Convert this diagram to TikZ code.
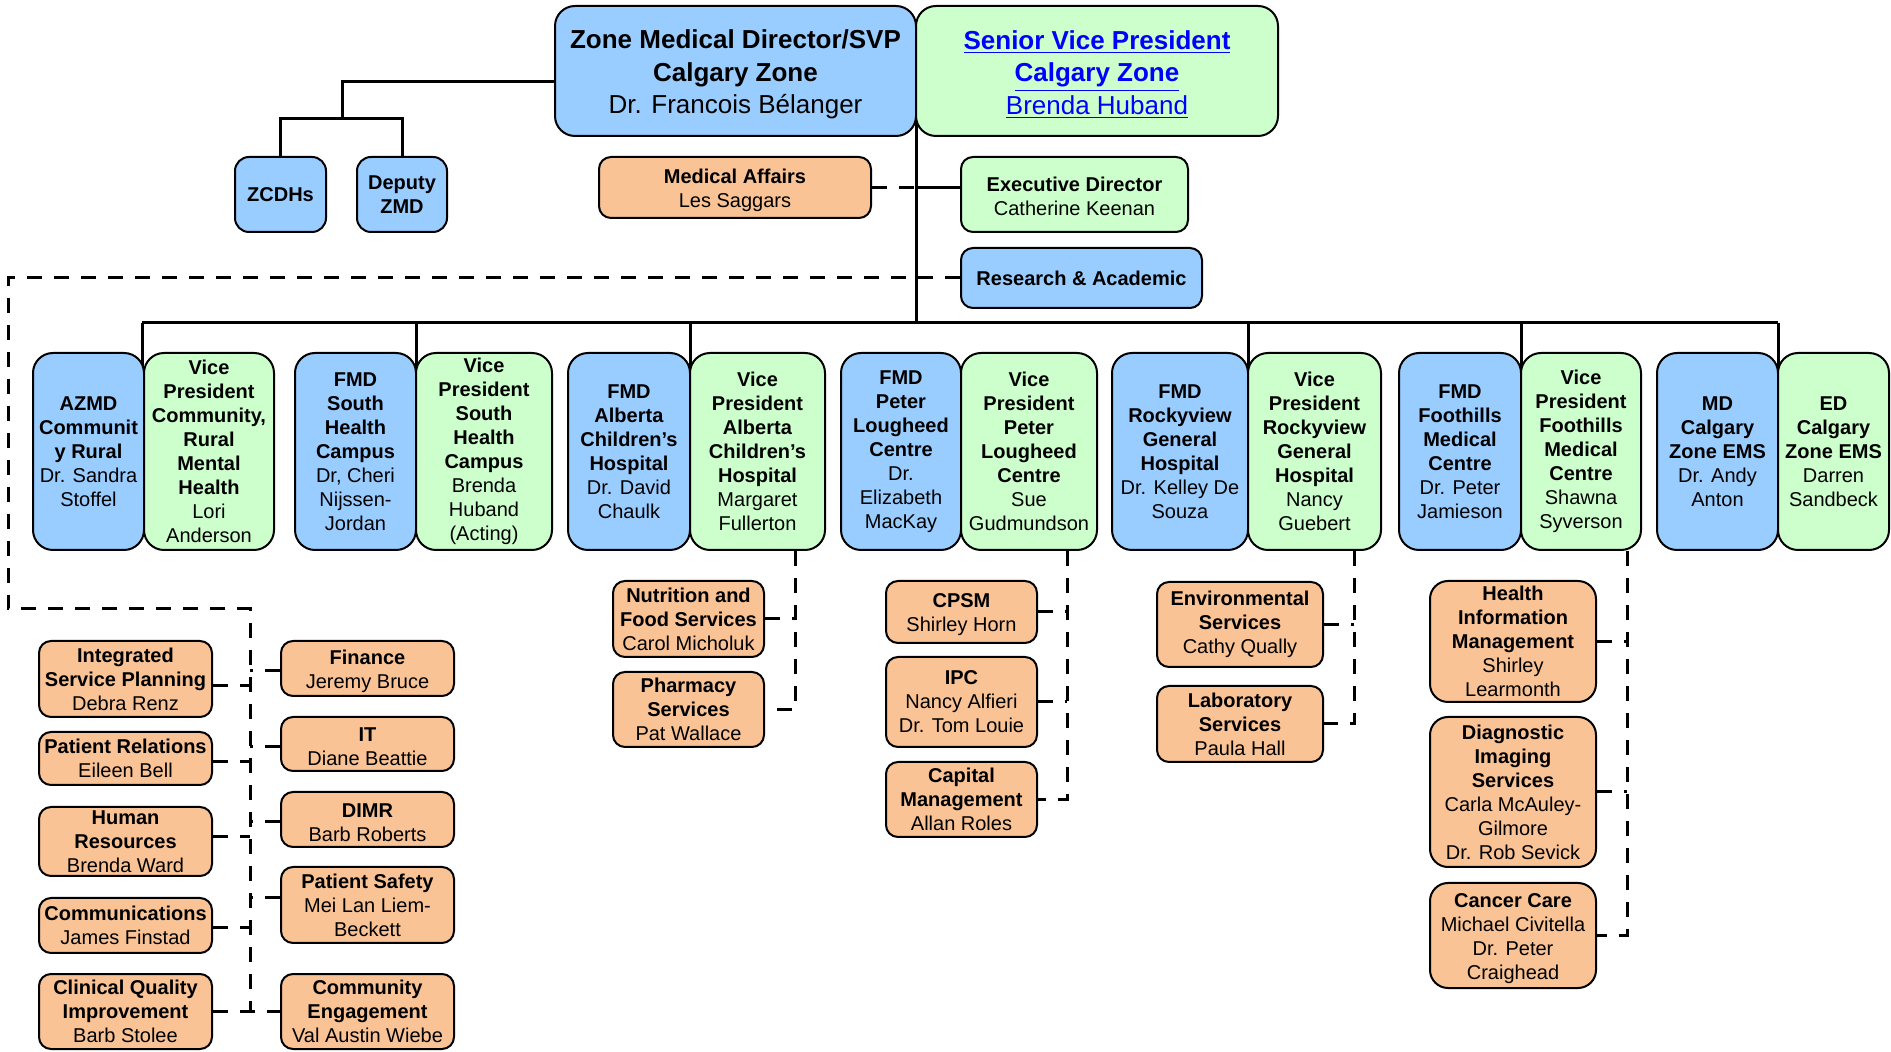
\documentclass[tikz,border=0pt]{standalone}
\usepackage{fontspec}
\setmainfont{Liberation Sans}
\usetikzlibrary{calc,backgrounds}
\definecolor{boxblue}{HTML}{99CCFF}
\definecolor{boxgreen}{HTML}{CCFFCC}
\definecolor{boxorange}{HTML}{F9C396}
\definecolor{linkblue}{HTML}{0000FF}
\newcommand{\B}[1]{\textbf{#1}}
\newcommand{\LK}[1]{\textcolor{linkblue}{\underline{#1}}}
\newcommand{\TopStrut}{\rule{0pt}{13pt}}
\newcommand{\MidStrut}{\rule{0pt}{9.6pt}}
\newcommand{\OrgBox}[7]{\node[#1, minimum width={((#5)-(#3))*0.5pt}, minimum height={((#6)-(#4))*0.5pt}] (#2) at ({((#3)+(#5))/2},{((#4)+(#6))/2}) {#7};}
\begin{document}
\begin{tikzpicture}[x=0.5pt,y=-0.5pt,
  orgbox/.style={draw=black, line width=1pt, rounded corners=10pt, align=center, inner sep=0pt, font=\fontsize{10}{12}\selectfont},
  bluebox/.style={orgbox, fill=boxblue},
  greenbox/.style={orgbox, fill=boxgreen},
  orangebox/.style={orgbox, fill=boxorange, rounded corners=6pt},
  bigorange/.style={orgbox, fill=boxorange, rounded corners=9pt},
  topfont/.style={font=\fontsize{13}{16.3}\selectfont},
  conn/.style={line width=1.5pt},
  dl/.style={line width=1.5pt, dash pattern=on 7.5pt off 6pt}]
\useasboundingbox (0,0) rectangle (1891,1052);

% ---------- top ----------
\OrgBox{bluebox,topfont}{ZMD}{555}{6}{916}{136}{\TopStrut\B{Zone Medical Director/SVP}\\\B{Calgary Zone}\\Dr. Francois Bélanger}
\OrgBox{greenbox,topfont}{SVP}{916}{6}{1278}{136}{\TopStrut\LK{\B{Senior Vice President}}\\\LK{\B{Calgary Zone}}\\\LK{Brenda Huband}}
\OrgBox{bluebox,rounded corners=7pt}{ZCDH}{235}{157}{326}{232}{\B{ZCDHs}}
\OrgBox{bluebox,rounded corners=7pt}{Dep}{357}{157}{447}{232}{\B{Deputy}\\\B{ZMD}}
\OrgBox{orangebox}{MedAff}{599}{157}{871}{218}{\MidStrut\B{Medical Affairs}\\Les Saggars}
\OrgBox{greenbox,rounded corners=6pt}{ExecDir}{961}{157}{1188}{232}{\MidStrut\B{Executive Director}\\Catherine Keenan}
\OrgBox{bluebox,rounded corners=6pt}{Research}{961}{248}{1202}{308}{\B{Research \& Academic}}

% ---------- row ----------
\OrgBox{bluebox}{AZMD}{33}{353}{144}{550}{\B{AZMD}\\\B{Communit}\\\B{y Rural}\\Dr. Sandra\\Stoffel}
\OrgBox{greenbox}{VPC}{144}{353}{274}{550}{\B{Vice}\\\B{President}\\\B{Community,}\\\B{Rural}\\\B{Mental}\\\B{Health}\\Lori\\Anderson}
\OrgBox{bluebox}{FMDS}{295}{353}{416}{550}{\B{FMD}\\\B{South}\\\B{Health}\\\B{Campus}\\Dr, Cheri\\Nijssen-\\Jordan}
\OrgBox{greenbox}{VPS}{416}{353}{552}{550}{\B{Vice}\\\B{President}\\\B{South}\\\B{Health}\\\B{Campus}\\Brenda\\Huband\\(Acting)}
\OrgBox{bluebox}{FMDA}{568}{353}{690}{550}{\B{FMD}\\\B{Alberta}\\\B{Children’s}\\\B{Hospital}\\Dr. David\\Chaulk}
\OrgBox{greenbox}{VPA}{690}{353}{825}{550}{\B{Vice}\\\B{President}\\\B{Alberta}\\\B{Children’s}\\\B{Hospital}\\Margaret\\Fullerton}
\OrgBox{bluebox}{FMDP}{841}{353}{961}{550}{\B{FMD}\\\B{Peter}\\\B{Lougheed}\\\B{Centre}\\Dr.\\Elizabeth\\MacKay}
\OrgBox{greenbox}{VPP}{961}{353}{1097}{550}{\B{Vice}\\\B{President}\\\B{Peter}\\\B{Lougheed}\\\B{Centre}\\Sue\\Gudmundson}
\OrgBox{bluebox}{FMDR}{1112}{353}{1248}{550}{\B{FMD}\\\B{Rockyview}\\\B{General}\\\B{Hospital}\\Dr. Kelley De\\Souza}
\OrgBox{greenbox}{VPR}{1248}{353}{1381}{550}{\B{Vice}\\\B{President}\\\B{Rockyview}\\\B{General}\\\B{Hospital}\\Nancy\\Guebert}
\OrgBox{bluebox}{FMDF}{1399}{353}{1521}{550}{\B{FMD}\\\B{Foothills}\\\B{Medical}\\\B{Centre}\\Dr. Peter\\Jamieson}
\OrgBox{greenbox}{VPF}{1521}{353}{1641}{550}{\B{Vice}\\\B{President}\\\B{Foothills}\\\B{Medical}\\\B{Centre}\\Shawna\\Syverson}
\OrgBox{bluebox}{MDE}{1657}{353}{1778}{550}{\B{MD}\\\B{Calgary}\\\B{Zone EMS}\\Dr. Andy\\Anton}
\OrgBox{greenbox}{EDE}{1778}{353}{1889}{550}{\B{ED}\\\B{Calgary}\\\B{Zone EMS}\\Darren\\Sandbeck}

% ---------- bottom left ----------
\OrgBox{orangebox}{Int}{39}{641}{212}{717}{\B{Integrated}\\\B{Service Planning}\\Debra Renz}
\OrgBox{orangebox}{PatRel}{39}{732}{212}{785}{\B{Patient Relations}\\Eileen Bell}
\OrgBox{orangebox}{HR}{39}{807}{212}{876}{\B{Human}\\\B{Resources}\\Brenda Ward}
\OrgBox{orangebox}{Comm}{39}{898}{212}{953}{\B{Communications}\\James Finstad}
\OrgBox{orangebox}{CQI}{39}{974}{212}{1049}{\B{Clinical Quality}\\\B{Improvement}\\Barb Stolee}
\OrgBox{orangebox}{Fin}{281}{641}{454}{696}{\MidStrut\B{Finance}\\Jeremy Bruce}
\OrgBox{orangebox}{IT}{281}{717}{454}{771}{\MidStrut\B{IT}\\Diane Beattie}
\OrgBox{orangebox}{DIMR}{281}{792}{454}{847}{\MidStrut\B{DIMR}\\Barb Roberts}
\OrgBox{orangebox}{PatSaf}{281}{867}{454}{943}{\B{Patient Safety}\\Mei Lan Liem-\\Beckett}
\OrgBox{orangebox}{CommEng}{281}{974}{454}{1049}{\B{Community}\\\B{Engagement}\\Val Austin Wiebe}

% ---------- bottom others ----------
\OrgBox{orangebox}{Nutr}{613}{581}{764}{657}{\B{Nutrition and}\\\B{Food Services}\\Carol Micholuk}
\OrgBox{orangebox}{Pharm}{613}{672}{764}{747}{\B{Pharmacy}\\\B{Services}\\Pat Wallace}
\OrgBox{orangebox}{CPSM}{886}{581}{1037}{643}{\MidStrut\B{CPSM}\\Shirley Horn}
\OrgBox{orangebox}{IPC}{886}{657}{1037}{747}{\B{IPC}\\Nancy Alfieri\\Dr. Tom Louie}
\OrgBox{orangebox}{CapM}{886}{762}{1037}{837}{\B{Capital}\\\B{Management}\\Allan Roles}
\OrgBox{orangebox}{Env}{1157}{582}{1323}{667}{\B{Environmental}\\\B{Services}\\Cathy Qually}
\OrgBox{orangebox}{Lab}{1157}{686}{1323}{762}{\B{Laboratory}\\\B{Services}\\Paula Hall}
\OrgBox{bigorange}{HIM}{1430}{581}{1596}{702}{\B{Health}\\\B{Information}\\\B{Management}\\Shirley\\Learmonth}
\OrgBox{bigorange}{DIS}{1430}{717}{1596}{867}{\B{Diagnostic}\\\B{Imaging}\\\B{Services}\\Carla McAuley-\\Gilmore\\Dr. Rob Sevick}
\OrgBox{bigorange}{Canc}{1430}{883}{1596}{988}{\MidStrut\B{Cancer Care}\\Michael Civitella\\Dr. Peter\\Craighead}

% ---------- connectors ----------
\coordinate (T) at (916,323);
\coordinate (J) at (342,119);
\coordinate (LL) at (8,277);
\coordinate (L) at (250,609);
\coordinate (vA) at (795,0);
\coordinate (vP) at (1067,0);
\coordinate (vR) at (1354,0);
\coordinate (vF) at (1627,0);
\begin{scope}[on background layer]
  % ZMD to ZCDHs / Deputy
  \draw[conn] ($(ZMD.west)+(0,11)$) -| (J);
  \draw[conn] (ZCDH.north) |- (J) -| (Dep.north);
  % trunk and bus
  \draw[conn] (916,120) -- (T);
  \draw[conn] (142,323) -- (1778,323);
  \foreach \x in {142,416,690,1248,1521,1778} \draw[conn] (\x,323) -- (\x,372);
  % medical affairs / executive director
  \draw[dl] (MedAff.east) -- (MedAff.east -| T);
  \draw[conn] (MedAff.east -| T) -- (ExecDir.west |- MedAff.east);
  % research & academic to support services
  \draw[dl] (Research.west) -- (Research.west -| LL) -- (LL |- L) -- (L) -- (L |- CQI.east);
  \draw[dl] ($(Int.east)+(0,7)$) -- ($(Int.east -| L)+(0,7)$);
  \draw[dl] ($(PatRel.east)+(0,3.5)$) -- ($(PatRel.east -| L)+(0,3.5)$);
  \draw[dl] ($(HR.east)+(0,-4.5)$) -- ($(HR.east -| L)+(0,-4.5)$);
  \draw[dl] ($(Comm.east)+(0,2.5)$) -- ($(Comm.east -| L)+(0,2.5)$);
  \draw[dl] (CQI.east) -- (CommEng.west);
  \draw[dl] ($(Fin.west)+(0,2.5)$) -- ($(Fin.west -| L)+(0,2.5)$);
  \draw[dl] ($(IT.west)+(0,3)$) -- ($(IT.west -| L)+(0,3)$);
  \draw[dl] ($(DIMR.west)+(0,2.5)$) -- ($(DIMR.west -| L)+(0,2.5)$);
  \draw[dl] ($(PatSaf.west)+(0,-7)$) -- ($(PatSaf.west -| L)+(0,-7)$);
  % Alberta children's
  \draw[dl] (VPA.south -| vA) -- (Pharm.east -| vA) -- (Pharm.east);
  \draw[dl] (Nutr.east) -- (Nutr.east -| vA);
  % Peter Lougheed
  \draw[dl] (VPP.south -| vP) -- (CapM.east -| vP) -- (CapM.east);
  \draw[dl] (CPSM.east) -- (CPSM.east -| vP);
  \draw[dl] (IPC.east) -- (IPC.east -| vP);
  % Rockyview
  \draw[dl] (VPR.south -| vR) -- (Lab.east -| vR) -- (Lab.east);
  \draw[dl] (Env.east) -- (Env.east -| vR);
  % Foothills
  \draw[dl] (VPF.south -| vF) -- (Canc.east -| vF) -- (Canc.east);
  \draw[dl] (HIM.east) -- (HIM.east -| vF);
  \draw[dl] (DIS.east) -- (DIS.east -| vF);
\end{scope}
\end{tikzpicture}
\end{document}
